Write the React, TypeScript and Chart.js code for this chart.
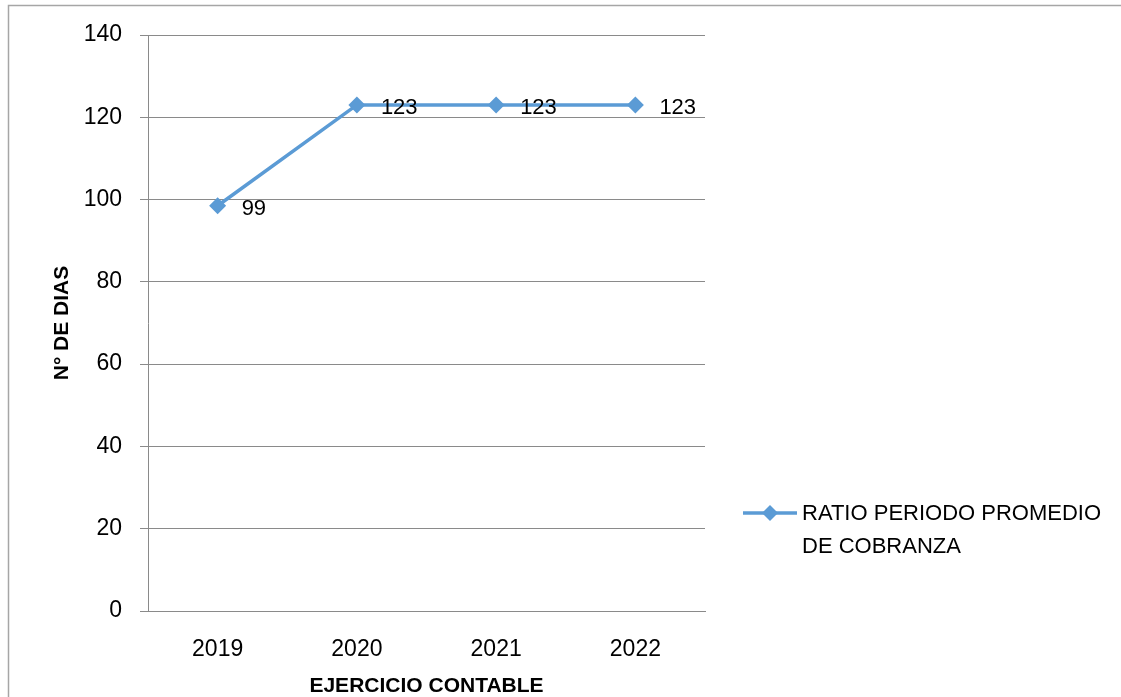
import React, { useEffect, useRef } from "react";
import { Chart, registerables } from "chart.js";

Chart.register(...registerables);

const years = ["2019", "2020", "2021", "2022"];
const ratioValues = [98.5, 123, 123, 123];
const valueLabels = ["99", "123", "123", "123"];
const yTicks = [0, 20, 40, 60, 80, 100, 120, 140];
const seriesName = ["RATIO PERIODO PROMEDIO", "DE COBRANZA"];
const xTitle = "EJERCICIO CONTABLE";
const yTitle = "N° DE DIAS";

const LINE_COLOR = "#5B9BD5";
const GRID_COLOR = "#8a8a8a";
const FONT = "'Liberation Sans', Arial, sans-serif";

const framePlugin = {
  id: "frame",
  beforeDraw(chart: any) {
    const ctx = chart.ctx;
    ctx.save();
    ctx.fillStyle = "#ffffff";
    ctx.fillRect(0, 0, chart.width, chart.height);
    ctx.strokeStyle = "#a6a6a6";
    ctx.lineWidth = 1.5;
    ctx.beginPath();
    ctx.moveTo(8.5, chart.height);
    ctx.lineTo(8.5, 5.5);
    ctx.lineTo(chart.width, 5.5);
    ctx.stroke();
    ctx.restore();
  },
};

const labelsPlugin = {
  id: "valueLabels",
  afterDatasetsDraw(chart: any) {
    const ctx = chart.ctx;
    const meta = chart.getDatasetMeta(0);
    ctx.save();
    ctx.font = `22px ${FONT}`;
    ctx.fillStyle = "#000";
    ctx.textAlign = "left";
    ctx.textBaseline = "middle";
    meta.data.forEach((pt: any, i: number) => {
      ctx.fillText(valueLabels[i], pt.x + 24, pt.y + 3);
    });
    ctx.restore();
  },
};

const titlesPlugin = {
  id: "axisTitles",
  afterDraw(chart: any) {
    const ctx = chart.ctx;
    const area = chart.chartArea;
    ctx.save();
    ctx.fillStyle = "#000";
    ctx.font = `bold 21px ${FONT}`;
    ctx.textAlign = "center";
    ctx.textBaseline = "middle";
    ctx.fillText(xTitle, (area.left + area.right) / 2, 686);
    ctx.translate(62, (area.top + area.bottom) / 2);
    ctx.rotate(-Math.PI / 2);
    ctx.fillText(yTitle, 0, 0);
    ctx.restore();

    // legend
    ctx.save();
    ctx.strokeStyle = LINE_COLOR;
    ctx.lineWidth = 3.5;
    ctx.beginPath();
    ctx.moveTo(743, 513);
    ctx.lineTo(797, 513);
    ctx.stroke();
    ctx.fillStyle = LINE_COLOR;
    ctx.beginPath();
    ctx.moveTo(770, 505);
    ctx.lineTo(778, 513);
    ctx.lineTo(770, 521);
    ctx.lineTo(762, 513);
    ctx.closePath();
    ctx.fill();
    ctx.fillStyle = "#000";
    ctx.font = `22px ${FONT}`;
    ctx.textAlign = "left";
    ctx.textBaseline = "middle";
    ctx.fillText(seriesName[0], 802, 514);
    ctx.fillText(seriesName[1], 802, 547);
    ctx.restore();
  },
};

export default function App() {
  const ref = useRef<HTMLCanvasElement>(null);

  useEffect(() => {
    if (!ref.current) return;
    const chart = new Chart(ref.current, {
      type: "line",
      data: {
        labels: years,
        datasets: [
          {
            label: seriesName.join(" "),
            data: ratioValues,
            borderColor: LINE_COLOR,
            backgroundColor: LINE_COLOR,
            borderWidth: 3.5,
            pointStyle: "rectRot",
            pointRadius: 8.5,
            pointBorderWidth: 0,
            pointBackgroundColor: LINE_COLOR,
            tension: 0,
          },
        ],
      },
      options: {
        responsive: false,
        animation: false,
        devicePixelRatio: 1,
        layout: { padding: { top: 35, right: 416, left: 0, bottom: 0 } },
        plugins: {
          legend: { display: false },
          tooltip: { enabled: false },
          title: { display: false },
        },
        scales: {
          x: {
            type: "category",
            offset: true,
            grid: { display: false, drawTicks: false },
            border: { display: true, color: GRID_COLOR, width: 1 },
            ticks: {
              color: "#000",
              font: { family: FONT, size: 23 },
              padding: 25,
              maxRotation: 0,
            },
            afterFit(scale: any) {
              scale.height = 86;
            },
          },
          y: {
            min: 0,
            max: 140,
            afterBuildTicks(scale: any) {
              scale.ticks = yTicks.map((v) => ({ value: v }));
            },
            grid: {
              color: GRID_COLOR,
              lineWidth: 1,
              drawTicks: true,
              tickLength: 8,
              tickColor: GRID_COLOR,
            },
            border: { display: true, color: GRID_COLOR, width: 1 },
            ticks: {
              color: "#000",
              font: { family: FONT, size: 23 },
              padding: 18,
            },
            afterFit(scale: any) {
              scale.width = 148;
            },
          },
        },
      },
      plugins: [framePlugin, labelsPlugin, titlesPlugin],
    });
    return () => chart.destroy();
  }, []);

  return (
    <div style={{ position: "absolute", left: 0, top: 0, width: 1121, height: 697 }}>
      <canvas ref={ref} width={1121} height={697} style={{ display: "block" }} />
    </div>
  );
}
